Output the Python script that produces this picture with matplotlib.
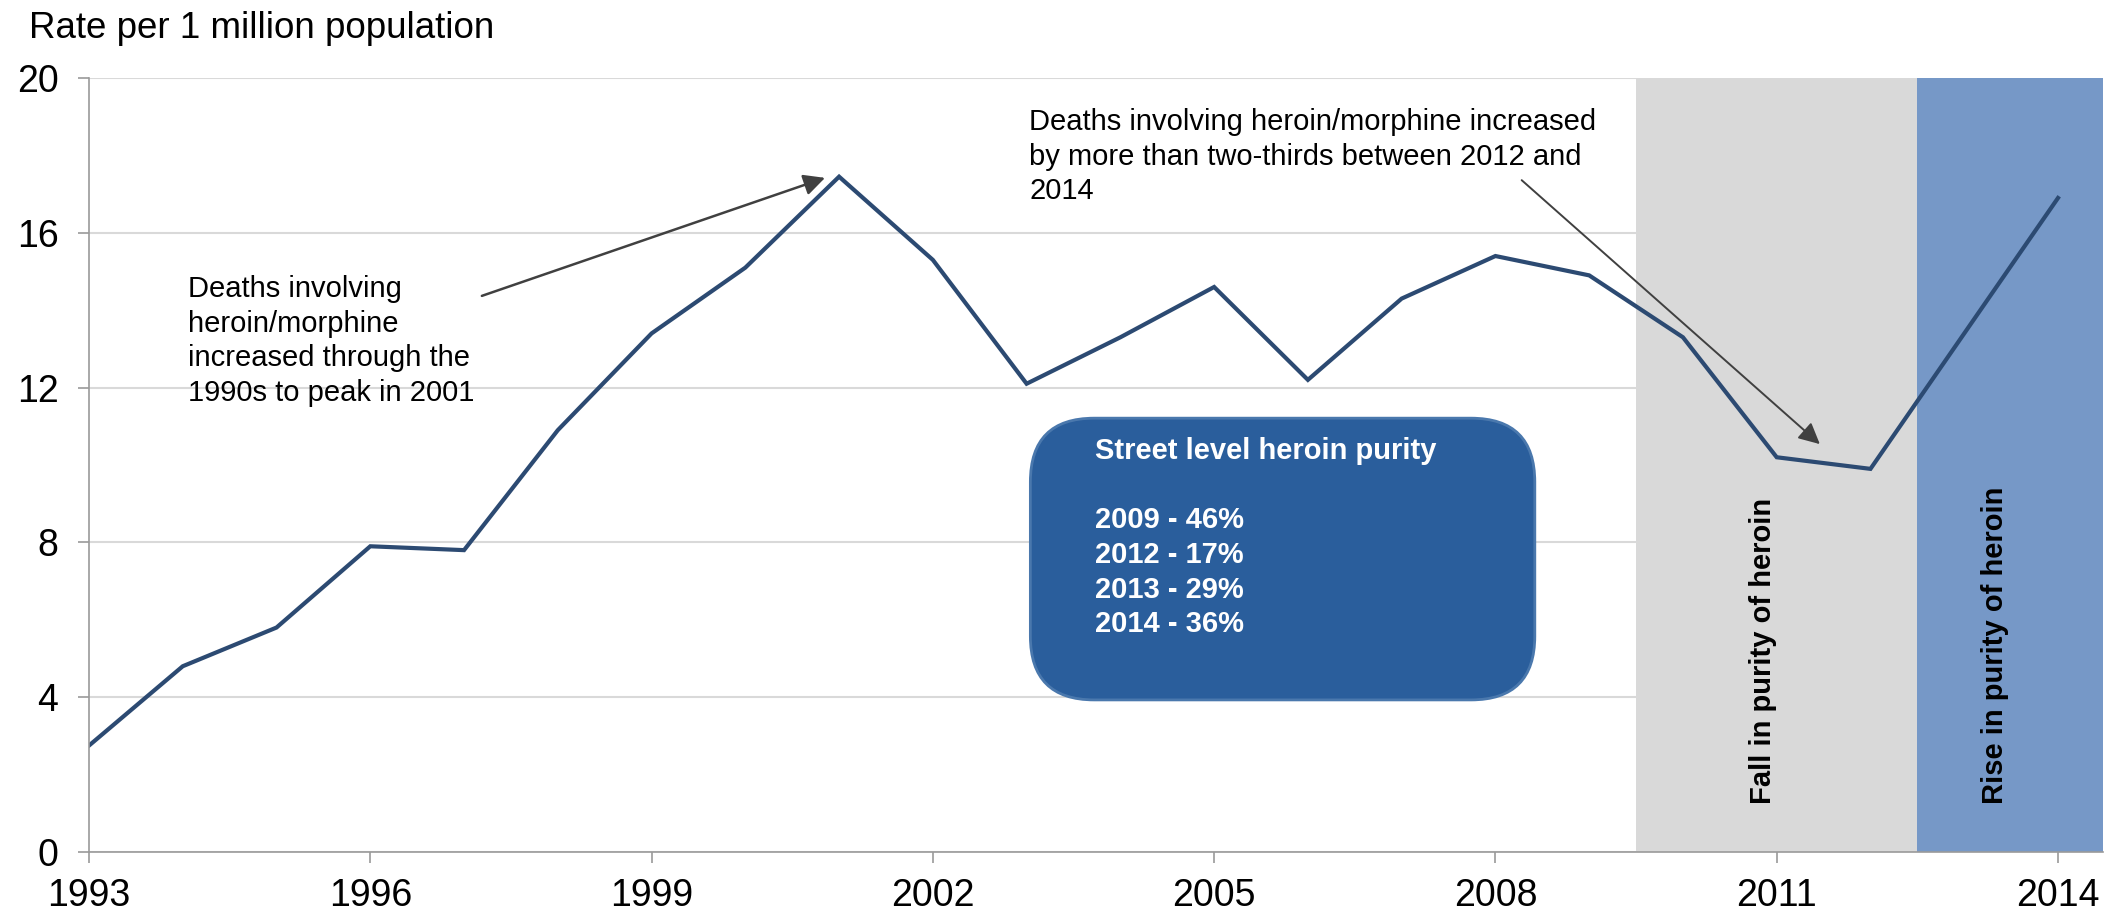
import numpy as np
import matplotlib
matplotlib.use("Agg")
import matplotlib.pyplot as plt
from matplotlib.patches import FancyBboxPatch

plt.rcParams['font.family'] = ['Liberation Sans', 'DejaVu Sans']

# heroin/morphine death rate per million, 1993-2014
years = np.arange(1993, 2015)
rate = [2.75, 4.8, 5.8, 7.9, 7.8, 10.9, 13.4, 15.1, 17.45, 15.3, 12.1,
        13.3, 14.6, 12.2, 14.3, 15.4, 14.9, 13.3, 10.2, 9.9, 13.4, 16.9]

xticks = [1993, 1996, 1999, 2002, 2005, 2008, 2011, 2014]
yticks = [0, 4, 8, 12, 16, 20]

fall_period = (2009.5, 2012.5)
rise_period = (2012.5, 2014.5)

purity_title = "Street level heroin purity"
purity_years = [2009, 2012, 2013, 2014]
purity_pct = [46, 17, 29, 36]

note_peak = ("Deaths involving\nheroin/morphine\n"
             "increased through the\n1990s to peak in 2001")
note_rise = ("Deaths involving heroin/morphine increased\n"
             "by more than two-thirds between 2012 and\n2014")

line_col = '#2C4A72'
grid_col = '#D9D9D9'
axis_col = '#9A9A9A'

fig = plt.figure(figsize=(21.11, 9.16), dpi=100)
ax = fig.add_axes([89 / 2111, 64 / 916, (2103 - 89) / 2111, (852 - 78) / 916])

ax.set_xlim(1993, 2014.48)
ax.set_ylim(0, 20)

ax.axvspan(*fall_period, color='#D9D9D9', lw=0, zorder=1)
ax.axvspan(*rise_period, color='#7698C7', lw=0, zorder=1)

ax.plot(years, rate, color=line_col, lw=3.0, zorder=3, solid_joinstyle='miter')

ax.set_xticks(xticks)
ax.set_yticks(yticks)
ax.tick_params(axis='both', labelsize=27, color=axis_col, length=8, width=1.2)
ax.tick_params(axis='y', pad=14)
ax.tick_params(axis='x', pad=11)
ax.set_axisbelow(True)
ax.yaxis.grid(True, color=grid_col, lw=1.5)
for s in ['top', 'right']:
    ax.spines[s].set_visible(False)
for s in ['left', 'bottom']:
    ax.spines[s].set_color(axis_col)
    ax.spines[s].set_linewidth(1.2)
    ax.spines[s].set_zorder(4)

fig.text(29 / 2111, 0.969, "Rate per 1 million population", fontsize=26.5,
         ha='left', va='center')

# band labels
ax.text(2010.85, 1.24, "Fall in purity of heroin", rotation=90, fontsize=21,
        fontweight='bold', ha='center', va='bottom', zorder=5)
ax.text(2013.33, 1.24, "Rise in purity of heroin", rotation=90, fontsize=21,
        fontweight='bold', ha='center', va='bottom', zorder=5)

# arrows and notes
arrow = dict(arrowstyle='-|>', color='#404040', lw=1.8, mutation_scale=32,
             shrinkA=0, shrinkB=0)
ax.annotate("", xy=(2000.85, 17.42), xytext=(1997.19, 14.37),
            arrowprops=arrow, zorder=5)
ax.text(1994.06, 13.2, note_peak, fontsize=21, ha='left', va='center',
        linespacing=1.3, zorder=5)

arrow2 = dict(arrow, lw=1.4)
ax.annotate("", xy=(2011.46, 10.54), xytext=(2008.28, 17.36),
            arrowprops=arrow2, zorder=5)
ax.text(2003.03, 17.97, note_rise, fontsize=21, ha='left', va='center',
        linespacing=1.28, zorder=5)

# rounded purity box; aspect keeps the corners circular on screen
fig.canvas.draw()
p0 = ax.transData.transform((2003, 0))
p1 = ax.transData.transform((2004, 1))
aspect = (p1[0] - p0[0]) / (p1[1] - p0[1])
box = FancyBboxPatch((2003.04, 3.93), 2008.42 - 2003.04, 11.21 - 3.93,
                     boxstyle="round,pad=0,rounding_size=0.68",
                     mutation_aspect=aspect, facecolor='#2A5E9C',
                     edgecolor='#4A78AD', lw=2, zorder=4)
ax.add_patch(box)
lines = [purity_title, ""] + [f"{y} - {p}%" for y, p in zip(purity_years, purity_pct)]
ax.text(2003.73, 8.12, "\n".join(lines), color='white', fontsize=21,
        fontweight='bold', ha='left', va='center', linespacing=1.3, zorder=5)

fig.savefig("out.png", dpi=100)
